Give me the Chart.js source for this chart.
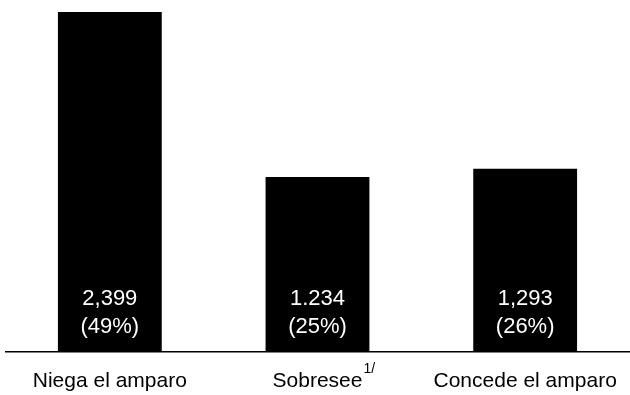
<!DOCTYPE html>
<html>
<head>
<meta charset="utf-8">
<script src="https://cdn.jsdelivr.net/npm/chart.js@4"></script>
<style>
  html, body { margin: 0; padding: 0; background: #fff; }
  #wrap { width: 630px; height: 395px; }
</style>
</head>
<body>
<div id="wrap"><canvas id="resolucionesChart"></canvas></div>
<script>
  const categorias = ["Niega el amparo", "Sobresee", "Concede el amparo"];
  const notas = ["", "1/", ""];
  const asuntos = [2399, 1234, 1293];
  const etiquetasValor = ["2,399", "1.234", "1,293"];
  const etiquetasPorcentaje = ["(49%)", "(25%)", "(26%)"];

  const fuente = "'Liberation Sans', Arial, sans-serif";

  // white value labels inside each bar
  const etiquetasBarras = {
    id: "etiquetasBarras",
    afterDatasetsDraw(chart) {
      const ctx = chart.ctx;
      const meta = chart.getDatasetMeta(0);
      ctx.save();
      ctx.fillStyle = "#ffffff";
      ctx.textAlign = "center";
      ctx.textBaseline = "middle";
      ctx.font = "22px " + fuente;
      meta.data.forEach((bar, i) => {
        ctx.fillText(etiquetasValor[i], bar.x, bar.base - 53);
        ctx.fillText(etiquetasPorcentaje[i], bar.x, bar.base - 25);
      });
      ctx.restore();
    },
  };

  // superscript note after a category label
  const superindices = {
    id: "superindices",
    afterDraw(chart) {
      const ctx = chart.ctx;
      const scale = chart.scales.x;
      ctx.save();
      ctx.fillStyle = "#000000";
      ctx.textBaseline = "alphabetic";
      ctx.textAlign = "left";
      notas.forEach((nota, i) => {
        if (!nota) return;
        ctx.font = "21px " + fuente;
        const ancho = ctx.measureText(categorias[i]).width;
        const x = scale.getPixelForTick(i) + ancho / 2 + 1;
        ctx.font = "14px " + fuente;
        ctx.fillText(nota, x, scale.bottom - 22);
      });
      ctx.restore();
    },
  };

  const ctx = document.getElementById("resolucionesChart").getContext("2d");
  new Chart(ctx, {
    type: "bar",
    data: {
      labels: categorias,
      datasets: [
        {
          data: asuntos,
          backgroundColor: "#000000",
          borderWidth: 0,
          barPercentage: 1,
          categoryPercentage: 0.5,
        },
      ],
    },
    options: {
      responsive: true,
      maintainAspectRatio: false,
      animation: false,
      layout: { padding: { left: 6, right: 1, top: 12, bottom: 0 } },
      plugins: {
        legend: { display: false },
        tooltip: { enabled: false },
      },
      scales: {
        x: {
          grid: { display: false, drawTicks: false },
          border: { display: true, color: "#000000", width: 1.5 },
          ticks: {
            color: "#000000",
            font: { family: fuente, size: 21 },
            padding: 17,
            maxRotation: 0,
          },
          afterFit(scale) {
            scale.height = 43;
            scale.paddingLeft = 0;
            scale.paddingRight = 0;
          },
        },
        y: {
          display: false,
          min: 0,
          max: 2399,
        },
      },
    },
    plugins: [etiquetasBarras, superindices],
  });
</script>
</body>
</html>
